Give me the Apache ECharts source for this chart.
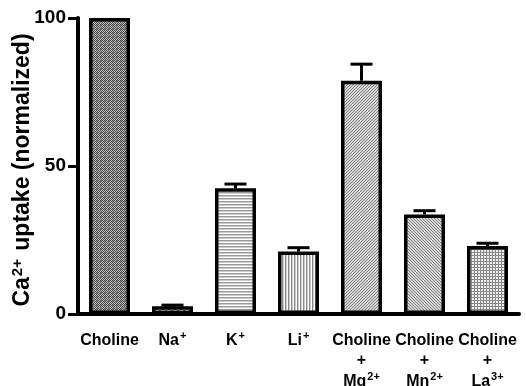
<!DOCTYPE html>
<html><head><meta charset="utf-8">
<script src="https://cdn.jsdelivr.net/npm/echarts@6/dist/echarts.min.js"></script>
<style>html,body{margin:0;padding:0;background:#fff}#c{width:526px;height:386px}</style>
</head><body><div id="c"></div>
<script>
var categories = ['Choline', 'Na{s|+}', 'K{s|+}', 'Li{s|+}', 'Choline\n+\nMg{s|2+}', 'Choline\n+\nMn{s|2+}', 'Choline\n+\nLa{s|3+}'];
var values = [100, 2.6, 42.5, 21.1, 78.8, 33.6, 23.0];
var errors = [0, 0.4, 1.4, 1.3, 5.6, 1.3, 0.9];
var yTicks = [0, 50, 100];

function pat(w, h, draw) {
  var c = document.createElement('canvas'); c.width = w; c.height = h;
  var g = c.getContext('2d'); draw(g, w, h);
  return {image: c, repeat: 'repeat'};
}
var patterns = [
  pat(4, 4, function (g) { g.fillStyle = '#c0c0c0'; g.fillRect(0,0,4,4); g.fillStyle = '#4a4a4a'; g.fillRect(0,0,1,1); g.fillRect(1,1,1,1); g.fillRect(2,0,1,1); g.fillRect(0,2,1,1); g.fillRect(2,2,1,1); g.fillRect(3,3,1,1); g.fillRect(1,3,1,1); g.fillRect(3,1,1,1);g.fillStyle='#888';g.fillRect(1,0,1,1);g.fillRect(0,1,1,1); }),
  pat(6, 4, function (g) { g.fillStyle = '#fff'; g.fillRect(0,0,6,4); g.fillStyle = '#777'; g.fillRect(0,1,2,1); g.fillRect(3,2,2,1); }),
  pat(2, 3, function (g) { g.fillStyle = '#fff'; g.fillRect(0,0,2,3); g.fillStyle = '#999'; g.fillRect(0,0,2,1); g.fillStyle='#ccc'; g.fillRect(0,1,2,1); }),
  pat(3, 2, function (g) { g.fillStyle = '#fff'; g.fillRect(0,0,3,2); g.fillStyle = '#888'; g.fillRect(0,0,1,2); g.fillStyle='#ccc'; g.fillRect(1,0,1,2); }),
  pat(3, 3, function (g) { g.fillStyle = '#d4d4d4'; g.fillRect(0,0,3,3); g.fillStyle = '#888'; g.fillRect(2,0,1,1); g.fillRect(1,1,1,1); g.fillRect(0,2,1,1); }),
  pat(3, 3, function (g) { g.fillStyle = '#d4d4d4'; g.fillRect(0,0,3,3); g.fillStyle = '#888'; g.fillRect(0,0,1,1); g.fillRect(1,1,1,1); g.fillRect(2,2,1,1); }),
  pat(3, 3, function (g) { g.fillStyle = '#eee'; g.fillRect(0,0,3,3); g.fillStyle = '#888'; g.fillRect(0,0,3,1); g.fillRect(0,0,1,3); })
];

var chart = echarts.init(document.getElementById('c'), null, {renderer: 'canvas'});
var font = '"Liberation Sans", Arial, sans-serif';
chart.setOption({
  animation: false,
  grid: {left: 78, right: 7, top: 18, bottom: 72, outerBoundsMode: 'none', containLabel: false},
  xAxis: {
    type: 'category', data: categories,
    axisLine: {lineStyle: {color: '#000', width: 4}},
    axisTick: {alignWithLabel: true, length: 8, lineStyle: {color: '#000', width: 3}},
    axisLabel: {color: '#000', fontWeight: 'bold', fontSize: 16, fontFamily: font, lineHeight: 20.5, margin: 16, interval: 0,
      rich: {s: {fontSize: 11, fontWeight: 'bold', fontFamily: font, color: '#000', verticalAlign: 'top', lineHeight: 20.5, padding: [0, 0, 0, 1]}}}
  },
  yAxis: {
    type: 'value', min: 0, max: 100, interval: 50,
    name: 'Ca{s|2+} uptake (normalized)', nameLocation: 'middle', nameGap: 43, nameMoveOverlap: false,
    nameTextStyle: {color: '#000', fontWeight: 'bold', fontSize: 23, fontFamily: font, lineHeight: 25, padding: [0, 8, 0, 0],
      rich: {s: {fontSize: 15, fontWeight: 'bold', fontFamily: font, color: '#000', verticalAlign: 'top', lineHeight: 25, padding: [0, 2, 0, 1]}}},
    axisLine: {show: true, lineStyle: {color: '#000', width: 4}},
    axisTick: {show: true, length: 10, lineStyle: {color: '#000', width: 3}},
    axisLabel: {color: '#000', fontWeight: 'bold', fontSize: 19, fontFamily: font, margin: 12,
      formatter: function (v) { return yTicks.indexOf(v) >= 0 ? String(v) : ''; }},
    splitLine: {show: false}
  },
  series: [
    {
      type: 'bar', barWidth: 41,
      data: values.map(function (v, i) { return {value: v, itemStyle: {color: patterns[i]}}; }),
      itemStyle: {borderColor: '#000', borderWidth: 3.5},
      z: 2
    },
    {
      type: 'custom', z: 3,
      data: values.map(function (v, i) { return [i, v, errors[i]]; }),
      renderItem: function (params, api) {
        var e = api.value(2);
        if (!e) return null;
        var top = api.coord([api.value(0), api.value(1) + e]);
        var base = api.coord([api.value(0), api.value(1)]);
        var hw = 11;
        return {type: 'group', children: [
          {type: 'line', shape: {x1: top[0], y1: top[1], x2: base[0], y2: base[1]}, style: {stroke: '#000', lineWidth: 3}},
          {type: 'line', shape: {x1: top[0] - hw, y1: top[1], x2: top[0] + hw, y2: top[1]}, style: {stroke: '#000', lineWidth: 3}}
        ]};
      }
    }
  ]
});
</script></body></html>
